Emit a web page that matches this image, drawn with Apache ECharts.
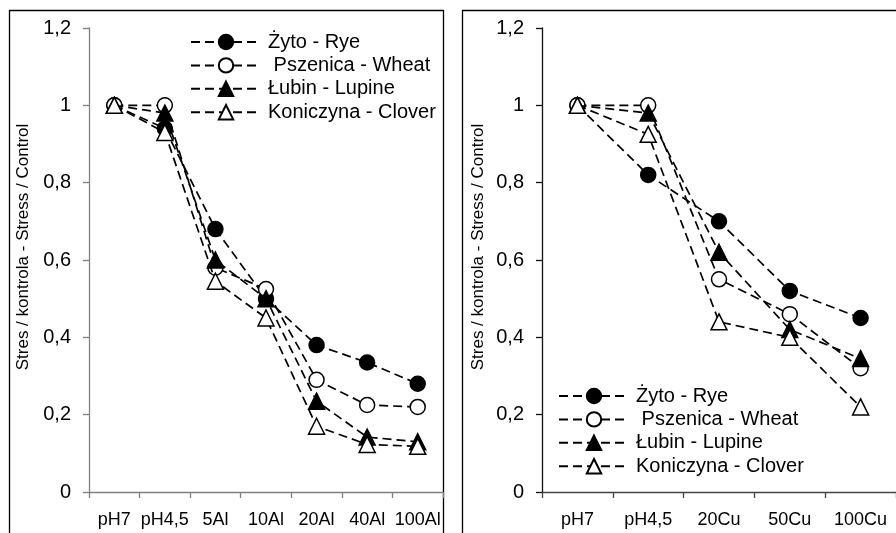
<!DOCTYPE html>
<html>
<head>
<meta charset="utf-8">
<script src="https://cdn.jsdelivr.net/npm/echarts@6/dist/echarts.min.js"></script>
<style>
html,body{margin:0;padding:0;background:#fff;}
#c{width:896px;height:533px;}
</style>
</head>
<body>
<div id="c"></div>
<script>
// ---- data ----
const catsAl = ['pH7', 'pH4,5', '5Al', '10Al', '20Al', '40Al', '100Al'];
const catsCu = ['pH7', 'pH4,5', '20Cu', '50Cu', '100Cu'];
const seriesNames = ['Żyto - Rye', ' Pszenica - Wheat', 'Łubin - Lupine', 'Koniczyna - Clover'];
const ryeAl    = [1.00, 0.94, 0.68, 0.50, 0.38, 0.335, 0.28];
const wheatAl  = [1.00, 1.00, 0.58, 0.525, 0.29, 0.225, 0.22];
const lupineAl = [1.00, 0.98, 0.60, 0.50, 0.235, 0.142, 0.13];
const cloverAl = [1.00, 0.93, 0.545, 0.45, 0.17, 0.123, 0.118];
const ryeCu    = [1.00, 0.82, 0.70, 0.52, 0.45];
const wheatCu  = [1.00, 1.00, 0.55, 0.46, 0.32];
const lupineCu = [1.00, 0.98, 0.62, 0.42, 0.345];
const cloverCu = [1.00, 0.925, 0.44, 0.40, 0.22];
const yTickLabels = ['0', '0,2', '0,4', '0,6', '0,8', '1', '1,2'];
const yTitle = 'Stres / kontrola - Stress / Control';

// ---- styling ----
const FONT = 'Liberation Sans, Arial, sans-serif';
const symbols = [
  {symbol: 'circle', size: 15, fill: '#000'},
  {symbol: 'circle', size: 15, fill: '#fff'},
  {symbol: 'triangle', size: 16, fill: '#000'},
  {symbol: 'triangle', size: 16, fill: '#fff'}
];
function mkSeries(idx, data, axisIdx) {
  const s = symbols[idx];
  return {
    type: 'line',
    name: seriesNames[idx],
    xAxisIndex: axisIdx, yAxisIndex: axisIdx,
    data: data,
    symbol: s.symbol,
    symbolSize: s.size,
    showAllSymbol: true,
    lineStyle: {color: '#000', width: 1.7, type: [9, 5]},
    itemStyle: {color: s.fill, borderColor: '#000', borderWidth: 1.5},
    emphasis: {disabled: true},
    z: 3 + idx
  };
}
function yAx(gridIdx, color) {
  return {
    type: 'value', gridIndex: gridIdx, min: 0, max: 1.2, interval: 0.2,
    axisLine: {show: true, lineStyle: {color: color, width: 1.3}},
    axisTick: {show: true, length: 6, lineStyle: {color: color, width: 1.3}},
    splitLine: {show: false},
    axisLabel: {
      margin: 18, color: '#000', fontSize: 20, fontFamily: FONT,
      formatter: function (v) { return yTickLabels[Math.round(v / 0.2)]; }
    }
  };
}
function xAx(gridIdx, cats, color) {
  return {
    type: 'category', gridIndex: gridIdx, data: cats, boundaryGap: true,
    axisLine: {show: true, lineStyle: {color: color, width: 1.3}},
    axisTick: {show: true, length: 6, alignWithLabel: false, lineStyle: {color: color, width: 1.3}},
    axisLabel: {margin: 19, color: '#000', fontSize: 18, fontFamily: FONT, interval: 0}
  };
}
function legend(left, top) {
  return {
    orient: 'vertical', left: left, top: top,
    itemWidth: 70, itemHeight: 18, itemGap: 3.4,
    data: seriesNames,
    selectedMode: false,
    textStyle: {fontSize: 20, color: '#000', fontFamily: FONT, padding: [0, 0, 0, 2]}
  };
}

const chart = echarts.init(document.getElementById('c'), null, {renderer: 'canvas'});
chart.setOption({
  animation: false,
  backgroundColor: '#fff',
  grid: [
    {left: 89, top: 28, width: 354, height: 464},
    {left: 542, top: 28, width: 357, height: 464}
  ],
  xAxis: [xAx(0, catsAl, '#808080'), xAx(1, catsCu, '#444')],
  yAxis: [yAx(0, '#808080'), yAx(1, '#111')],
  legend: [legend(185, 27), legend(553, 381)],
  series: [
    mkSeries(0, ryeAl, 0), mkSeries(1, wheatAl, 0), mkSeries(2, lupineAl, 0), mkSeries(3, cloverAl, 0),
    mkSeries(0, ryeCu, 1), mkSeries(1, wheatCu, 1), mkSeries(2, lupineCu, 1), mkSeries(3, cloverCu, 1)
  ],
  graphic: [
    {type: 'rect', shape: {x: 9.5, y: 10.5, width: 434, height: 600}, style: {fill: 'none', stroke: '#000', lineWidth: 1.3}, silent: true},
    {type: 'rect', shape: {x: 462.5, y: 10.5, width: 500, height: 600}, style: {fill: 'none', stroke: '#000', lineWidth: 1.3}, silent: true},
    {type: 'text', x: 23, y: 247, rotation: Math.PI / 2,
     style: {text: yTitle, font: '17px ' + FONT, fill: '#000', align: 'center', verticalAlign: 'middle'}, silent: true},
    {type: 'text', x: 478, y: 247, rotation: Math.PI / 2,
     style: {text: yTitle, font: '17px ' + FONT, fill: '#000', align: 'center', verticalAlign: 'middle'}, silent: true}
  ]
});
</script>
</body>
</html>
